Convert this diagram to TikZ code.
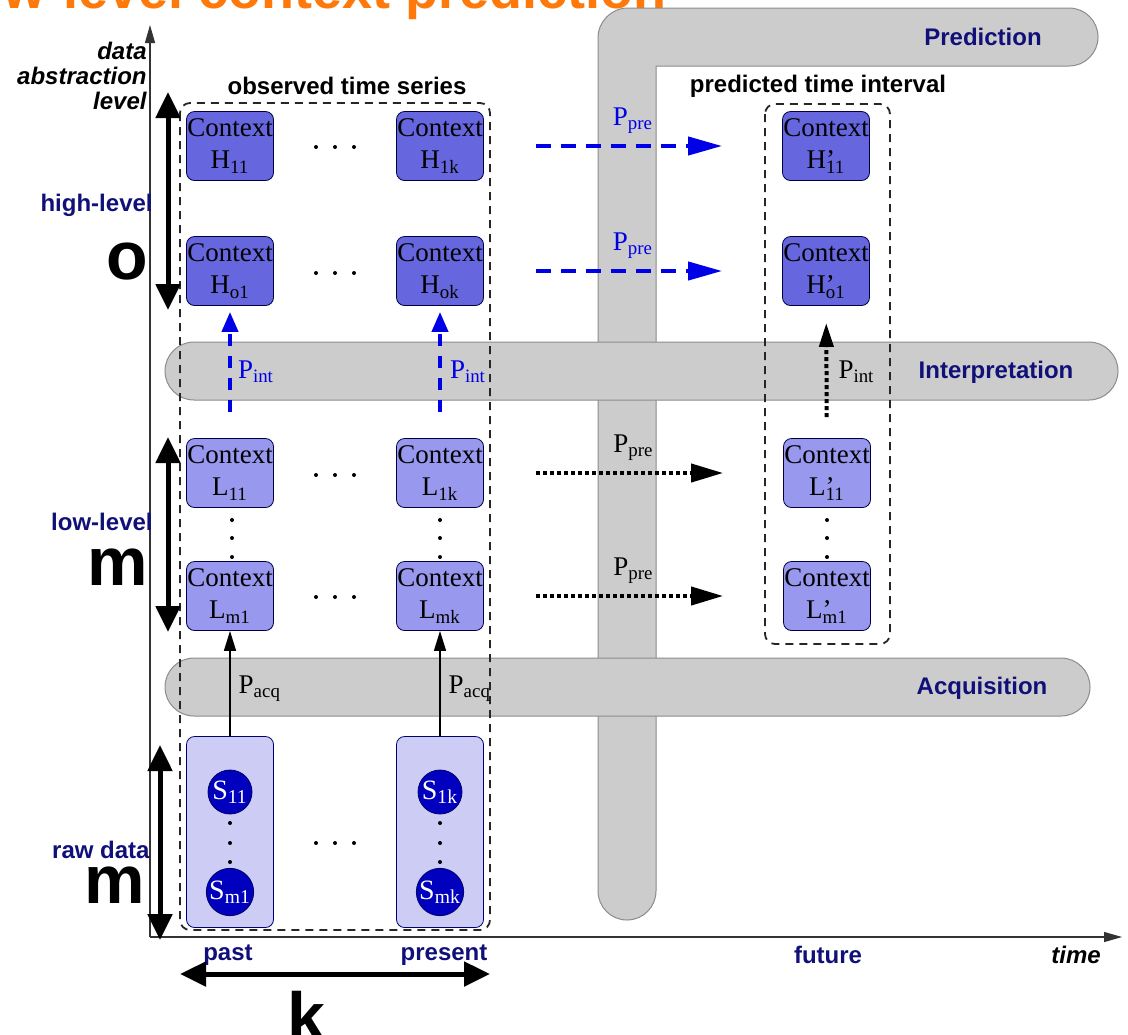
\documentclass[tikz,border=0pt]{standalone}
\usepackage{fontspec}
\setmainfont{Liberation Serif}
\setsansfont{Liberation Sans}
\usetikzlibrary{arrows.meta}

\definecolor{navy}{RGB}{16,16,120}
\definecolor{highctx}{RGB}{102,102,222}
\definecolor{lowctx}{RGB}{152,152,238}
\definecolor{rawfill}{RGB}{204,204,244}
\definecolor{sensorblue}{RGB}{0,0,190}
\definecolor{arrowblue}{RGB}{0,0,230}
\definecolor{titleorange}{RGB}{255,120,10}

\begin{document}
\begin{tikzpicture}[x=0.5pt,y=-0.5pt]
			\tikzstyle{ctx} = [
				rectangle, rounded corners=4pt, draw=black!75!blue,
				inner sep=0pt, minimum width=43.5pt, minimum height=34.5pt,
				align=center, font=\fontsize{13.5}{16}\selectfont
			]
			\tikzstyle{ctxhigh} = [ctx, fill=highctx]
			\tikzstyle{ctxlow} = [ctx, fill=lowctx]
			\tikzstyle{rawbox} = [rectangle, rounded corners=4pt, draw=black!55!blue, fill=rawfill, minimum width=43.5pt, minimum height=95.5pt]
			\tikzstyle{sensor} = [circle, draw=black!60!blue, fill=sensorblue, text=white, inner sep=0pt, minimum size=22pt, font=\fontsize{14}{14}\selectfont]
			\tikzstyle{band} = [draw=black!45, fill=black!20, line width=0.5pt]
			\tikzstyle{bandname} = [font=\sffamily\bfseries\fontsize{12}{14}\selectfont, text=navy]
			\tikzstyle{levelname} = [bandname, anchor=east, inner sep=0pt]
			\tikzstyle{bigletter} = [font=\sffamily\bfseries\fontsize{34}{36}\selectfont, inner sep=0pt]
			\tikzstyle{series} = [draw=black!85, line width=0.9pt, dash pattern=on 4pt off 3pt, rounded corners=5pt]
			\tikzstyle{extent} = [<->, >={Triangle[length=13pt,width=12pt]}, line width=2.5pt]
			\tikzstyle{axis} = [->, >={Triangle[length=9pt,width=5pt]}, draw=black!80, line width=0.6pt]
			\tikzstyle{acq} = [-{Triangle[length=10pt,width=6pt]}, line width=0.7pt]
			\tikzstyle{hint} = [-{Triangle[length=10pt,width=8pt]}, draw=arrowblue, line width=2pt, dash pattern=on 6pt off 5pt]
			\tikzstyle{hpre} = [-{Triangle[length=17pt,width=9pt]}, draw=arrowblue, line width=2pt, dash pattern=on 7.5pt off 5pt]
			\tikzstyle{lpre} = [-{Triangle[length=16pt,width=9pt]}, line width=2pt, dash pattern=on 2pt off 1.5pt]
			\tikzstyle{lint} = [-{Triangle[length=12pt,width=7pt]}, line width=2pt, dash pattern=on 2pt off 1.5pt]
			\tikzstyle{proc} = [font=\fontsize{13.5}{16}\selectfont, inner sep=0pt]

			\useasboundingbox (0,0) rectangle (1128,1034);
			\node[anchor=base east, text=titleorange, font=\sffamily\bfseries\fontsize{27}{30}\selectfont, inner sep=0pt] (title) at (667,8) {Low-level context prediction};

			% process bands
			\draw[band] (656,66) -- (656,891) arc[start angle=0, end angle=-180, radius=14.5pt]
				-- (598,38) arc[start angle=180, end angle=90, radius=15pt]
				-- (1069,8) arc[start angle=90, end angle=-90, radius=14.5pt] -- cycle;
			\draw[band, rounded corners=14.5pt] (165,342) rectangle (1118,400);
			\draw[band, rounded corners=14.5pt] (165,658) rectangle (1090,716);
			\node[bandname] (prediction) at (983,37) {Prediction};
			\node[bandname] (interpretation) at (996,372) {Interpretation};
			\node[bandname] (acquisition) at (982,688) {Acquisition};

			% axes
			\coordinate (origin) at (150,937);
			\coordinate (ytop) at (150,25);
			\coordinate (xend) at (1122,937);
			\draw[axis] (origin) -- (ytop);
			\draw[axis] (origin) -- (xend);
			\node[anchor=east, align=right, inner sep=0pt, font=\sffamily\bfseries\itshape\fontsize{12}{12.5}\selectfont] (ylabel) at (147,76) {data\\abstraction\\level};
			\node[font=\sffamily\bfseries\itshape\fontsize{12}{14}\selectfont] (xlabel) at (1076,955) {time};
			\node[bandname] (past) at (228,955) {past};
			\node[bandname] (present) at (444,955) {present};
			\node[bandname] (future) at (828,955) {future};

			% time windows
			\draw[series] (180,103) rectangle (490,930);
			\draw[series] (765,104) rectangle (890,644);
			\node[font=\sffamily\bfseries\fontsize{12}{14}\selectfont] (observed) at (347,86) {observed time series};
			\node[font=\sffamily\bfseries\fontsize{12}{14}\selectfont] (predicted) at (818,86) {predicted time interval};

			% high-level contexts
			\node[ctxhigh] (h11) at (230,146) {Context\\H\textsubscript{11}};
			\node[ctxhigh] (h1k) at (440,146) {Context\\H\textsubscript{1k}};
			\node[ctxhigh] (ho1) at (230,271) {Context\\H\textsubscript{o1}};
			\node[ctxhigh] (hok) at (440,271) {Context\\H\textsubscript{ok}};
			\node[ctxhigh] (hp11) at (826,146) {Context\\H\rlap{’}\textsubscript{11}};
			\node[ctxhigh] (hpo1) at (826,271) {Context\\H\rlap{’}\textsubscript{o1}};

			% low-level contexts
			\node[ctxlow] (l11) at (230,473) {Context\\L\textsubscript{11}};
			\node[ctxlow] (l1k) at (440,473) {Context\\L\textsubscript{1k}};
			\node[ctxlow] (lm1) at (230,596) {Context\\L\textsubscript{m1}};
			\node[ctxlow] (lmk) at (440,596) {Context\\L\textsubscript{mk}};
			\node[ctxlow] (lp11) at (827,473) {Context\\L\rlap{’}\textsubscript{11}};
			\node[ctxlow] (lpm1) at (827,596) {Context\\L\rlap{’}\textsubscript{m1}};

			% raw data
			\node[rawbox] (raw1) at (230,832) {};
			\node[rawbox] (rawk) at (440,832) {};
			\node[sensor] (s11) at (230,792) {S\textsubscript{11}};
			\node[sensor] (sm1) at (230,892) {S\textsubscript{m1}};
			\node[sensor] (s1k) at (440,792) {S\textsubscript{1k}};
			\node[sensor] (smk) at (440,892) {S\textsubscript{mk}};

			% dots
			\foreach \y in {147,273,475,597,843}
				\foreach \x in {316,335,354}
					\fill (\x,\y) circle (1pt);
			\foreach \x in {232,440,827}
				\foreach \y in {520,538,557}
					\fill (\x,\y) circle (1pt);
			\foreach \x in {230,440}
				\foreach \y in {823,843,862}
					\fill (\x,\y) circle (1pt);

			% processes
			\draw[acq] (raw1) -- (lm1) node[proc, pos=0.45, right=4pt] (pacq1) {P\textsubscript{acq}};
			\draw[acq] (rawk) -- (lmk) node[proc, pos=0.45, right=4pt] (pacqk) {P\textsubscript{acq}};
			\draw[hint, shorten <=13pt, shorten >=3pt] (l11) -- (ho1) node[proc, pos=0.5, right=3pt, text=arrowblue] (pint1) {P\textsubscript{int}};
			\draw[hint, shorten <=13pt, shorten >=3pt] (l1k) -- (hok) node[proc, pos=0.5, right=4pt, text=arrowblue] (pintk) {P\textsubscript{int}};
			\draw[lint, shorten <=10.5pt, shorten >=8.5pt] (lp11) -- (hpo1) node[proc, pos=0.5, right=5pt] (pintp) {P\textsubscript{int}};
			\draw[hpre, shorten <=26pt, shorten >=30pt] (h1k) -- (hp11) node[proc, midway, above=5pt, text=arrowblue] (ppreh1) {P\textsubscript{pre}};
			\draw[hpre, shorten <=26pt, shorten >=30pt] (hok) -- (hpo1) node[proc, midway, above=5pt, text=arrowblue] (ppreho) {P\textsubscript{pre}};
			\draw[lpre, shorten <=26pt, shorten >=30pt] (l1k) -- (lp11) node[proc, midway, above=5pt] (pprel1) {P\textsubscript{pre}};
			\draw[lpre, shorten <=26pt, shorten >=30pt] (lmk) -- (lpm1) node[proc, midway, above=5pt] (pprelm) {P\textsubscript{pre}};

			% level extents
			\coordinate (hightop) at (168,92);
			\coordinate (highbot) at (168,310);
			\coordinate (lowtop) at (168,437);
			\coordinate (lowbot) at (168,632);
			\coordinate (rawtop) at (160,745);
			\coordinate (rawbot) at (160,940);
			\coordinate (kleft) at (180,974);
			\coordinate (kright) at (490,974);
			\draw[extent] (hightop) -- (highbot);
			\draw[extent] (lowtop) -- (lowbot);
			\draw[extent] (rawtop) -- (rawbot);
			\draw[extent] (kleft) -- (kright);
			\node[levelname] (highlevel) at (153,205) {high-{}level};
			\node[levelname] (lowlevel) at (153,522) {low-{}level};
			\node[levelname] (rawdata) at (150,850) {raw data};
			\node[bigletter, anchor=base east] (o) at (148,279) {o};
			\node[bigletter, anchor=base east] (mlow) at (148,585) {m};
			\node[bigletter, anchor=base east] (mraw) at (145,903) {m};
			\node[bigletter, anchor=base] (k) at (306,1040) {k};
		\end{tikzpicture}
\end{document}
